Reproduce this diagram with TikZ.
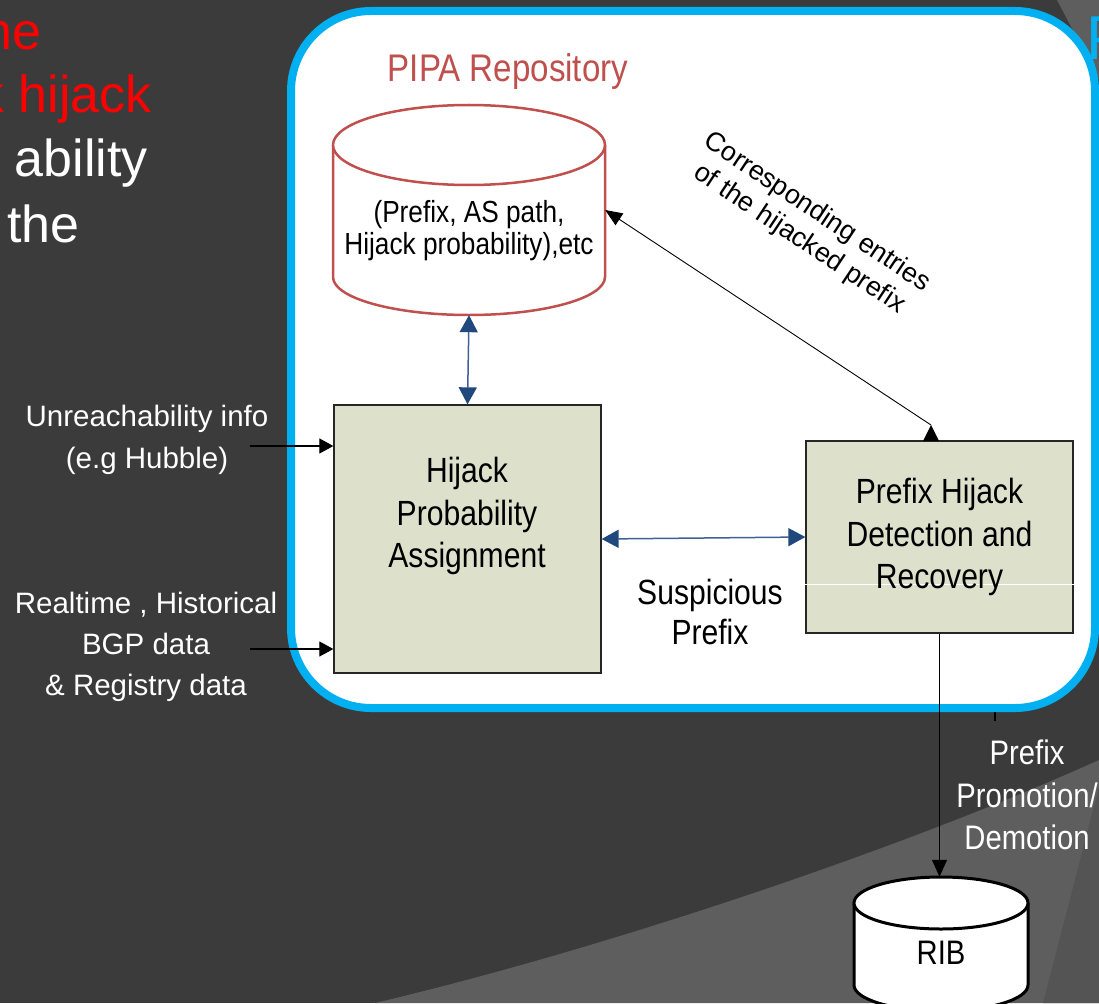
\documentclass[tikz,border=0pt]{standalone}
\usepackage{fontspec}
\setmainfont{Liberation Sans}
\newfontfamily\narf[FakeStretch=0.86]{Liberation Sans}
\usetikzlibrary{arrows.meta}
\definecolor{bgdark}{HTML}{3B3B3B}
\definecolor{bglight}{HTML}{5E5E5E}
\definecolor{bgmid}{HTML}{545454}
\definecolor{frameblue}{HTML}{00B0F0}
\definecolor{cylred}{HTML}{C0504D}
\definecolor{boxfill}{HTML}{DDE0CB}
\definecolor{navy}{HTML}{1F497D}
\definecolor{navyline}{HTML}{3F6296}
\begin{document}
\begin{tikzpicture}[x=1pt,y=-1pt,
  procbox/.style={draw=black!85, line width=1.3pt, fill=boxfill, inner sep=0pt},
  boxtext/.style={font=\narf\fontsize{35}{42.5}\selectfont, align=center, inner sep=0pt, text=black},
  cyltext/.style={font=\narf\fontsize{30.5}{32}\selectfont, align=center, inner sep=0pt, text=black},
  inlbl/.style={font=\fontsize{29.5}{42}\selectfont, align=center, inner sep=0pt, text=white},
  outlbl/.style={font=\narf\fontsize{34}{42.5}\selectfont, align=center, inner sep=0pt, text=white},
  slidetxt/.style={font=\fontsize{52}{60}\selectfont, inner sep=0pt, anchor=base east},
  bluearrow/.style={draw=navyline, line width=1.5pt,
     {Triangle[length=17pt,width=18pt,color=navy]}-{Triangle[length=17pt,width=18pt,color=navy]}},
  inarrow/.style={draw=black, line width=1.1pt, -{Triangle[length=14pt,width=15pt]}},
  thinline/.style={draw=black, line width=1.1pt}
]
\useasboundingbox (0,0) rectangle (1099,1003);
\clip (0,0) rectangle (1099,1003);
% background
\fill[bgdark] (0,0) rectangle (1099,1003);
\fill[bglight] (375,1003) .. controls (600,950) and (900,850) .. (1099,760) -- (1099,1003) -- cycle;
\fill[bgmid] (1099,787) -- (1043,1003) -- (1099,1003) -- cycle;
\fill[bglight] (1057,0) -- (1099,0) -- (1099,80) -- cycle;
% slide text fragments
\node[slidetxt, text=red] (s1) at (42,50) {the};
\node[slidetxt, text=red] (s2) at (152,113) {k hijack};
\node[slidetxt, text=white] (s3) at (148,177) {ability};
\node[slidetxt, text=white] (s4) at (80,242) {the};
\node[font=\fontsize{62}{70}\selectfont, text=frameblue, inner sep=0pt, anchor=base west] (sp) at (1086,60) {P};
% frame
\draw[frameblue, line width=8pt, fill=white, rounded corners=80pt] (291,11) rectangle (1095,708);
% PIPA repository
\node[font=\narf\fontsize{38.5}{44}\selectfont, text=cylred, inner sep=0pt] (pipatitle) at (508,72) {PIPA Repository};
\node[minimum width=272pt, minimum height=210pt, inner sep=0pt] (pipa) at (469,210) {};
\fill[white] (333,145) -- (333,277) .. controls (333,298) and (393.9,315) .. (469,315) .. controls (544.1,315) and (605,298) .. (605,277) -- (605,145) -- cycle;
\draw[cylred, line width=2.5pt] (333,145) -- (333,277) .. controls (333,298) and (393.9,315) .. (469,315) .. controls (544.1,315) and (605,298) .. (605,277) -- (605,145);
\draw[cylred, line width=2.5pt, fill=white] (469,145) ellipse [x radius=136pt, y radius=40pt];
\node[cyltext] (pipatext) at (469,231) {(Prefix, AS path,\\Hijack probability),etc};
% boxes
\node[procbox, minimum width=267pt, minimum height=268pt] (lbox) at (467.5,539) {};
\node[boxtext] (ltext) at (467,516) {Hijack\\Probability\\Assignment};
\node[procbox, minimum width=267pt, minimum height=192pt] (rbox) at (939.5,537) {};
\draw[white, line width=0.8pt] (rbox.west |- 0,584) -- (rbox.east |- 0,584);
\node[boxtext] (rtext) at (rbox.center) {Prefix Hijack\\Detection and\\Recovery};
% connectors
\draw[bluearrow] (pipa.south) -- (lbox.north);
\draw[bluearrow] (lbox.east) -- (rbox.west);
\node[boxtext, font=\narf\fontsize{35}{40.5}\selectfont] (susp) at (710,612) {Suspicious\\Prefix};
\coordinate (dtip) at (931,425);
\draw[thinline, line width=0.9pt, {Triangle[length=17pt,width=14pt]}-] (pipa.east) -- (dtip);
\fill[black] (dtip) -- (939,441) -- (923,441) -- cycle;
\node[rotate=-33.6, font=\fontsize{27}{32}\selectfont, align=center, inner sep=0pt] (corr) at (808,226) {Corresponding entries\\of the hijacked prefix};
% inputs
\node[inlbl] (unreach) at (147,440) {Unreachability info\\(e.g Hubble)};
\coordinate (in1) at (250,446);
\draw[inarrow] (in1) -- (lbox.west |- in1);
\node[inlbl, font=\fontsize{29.5}{41}\selectfont] (bgp) at (146,647) {Realtime , Historical\\BGP data\\\& Registry data};
\coordinate (in2) at (250,649);
\draw[inarrow] (in2) -- (lbox.west |- in2);
% RIB
\node[minimum width=174pt, minimum height=134pt, inner sep=0pt] (rib) at (941,944) {};
\fill[white] (854,903) -- (854,985) .. controls (854,999.4) and (893,1011) .. (941,1011) .. controls (989,1011) and (1028,999.4) .. (1028,985) -- (1028,903) -- cycle;
\draw[black, line width=3pt] (854,903) -- (854,985) .. controls (854,999.4) and (893,1011) .. (941,1011) .. controls (989,1011) and (1028,999.4) .. (1028,985) -- (1028,903);
\draw[black, line width=3pt, fill=white] (941,903) ellipse [x radius=87pt, y radius=26pt];
\node[font=\narf\fontsize{34}{40}\selectfont, inner sep=0pt] (ribtext) at (941,953) {RIB};
\draw[thinline, -{Triangle[length=17pt,width=15pt]}] (rbox.south) -- (rbox.south |- rib.north);
\coordinate (tk1) at (995,712);
\coordinate (tk2) at (995,721);
\draw[thinline] (tk1) -- (tk2);
\node[outlbl] (promo) at (1027,795) {Prefix\\Promotion/\\Demotion};
\end{tikzpicture}
\end{document}
